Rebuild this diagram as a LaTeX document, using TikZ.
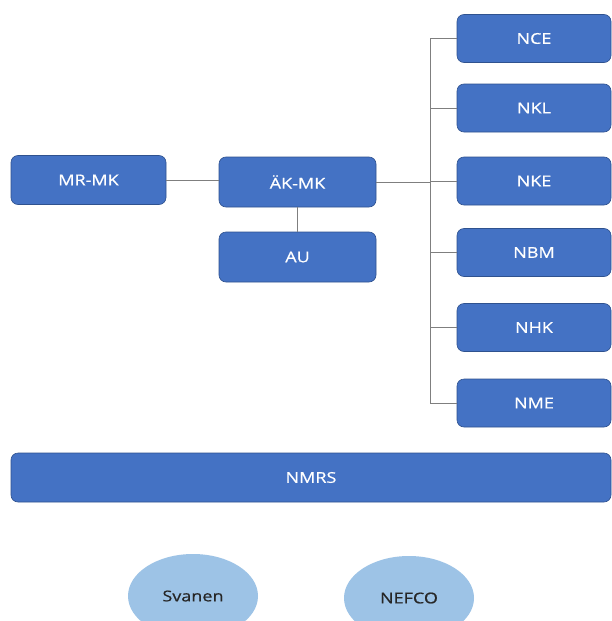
\documentclass[tikz,border=0pt]{standalone}
\usepackage{fontspec}
\setmainfont[FakeStretch=1.2,FakeBold=0.6]{Open Sans}
\usetikzlibrary{shapes.geometric}
\definecolor{boxblue}{HTML}{4472C4}
\definecolor{boxedge}{HTML}{2F528F}
\definecolor{ellblue}{HTML}{9DC3E6}
\definecolor{linegray}{HTML}{7F7F7F}
\begin{document}
\begin{tikzpicture}[x=1pt,y=-1pt,
  org/.style={draw=boxedge, line width=0.6pt, fill=boxblue, rounded corners=7pt,
    text=white, font=\fontsize{15}{17}\selectfont, inner sep=0pt},
  col/.style={org, minimum width=154pt, minimum height=48pt},
  mid/.style={org, minimum width=157pt, minimum height=49pt},
  oval/.style={ellipse, fill=ellblue, draw=none, minimum width=130pt, minimum height=84pt,
    inner sep=0pt, text=black!85, font=\fontsize{15}{17}\selectfont},
  conn/.style={draw=linegray, line width=1pt}]
\clip (0,0) rectangle (612,621);
\fill[white] (0,0) rectangle (612,621);
% left and middle
\node[mid, minimum width=155pt] (mrmk) at (88.5,180) {MR-MK};
\node[mid, minimum height=50pt] (akmk) at (297.5,182) {ÄK-MK};
\node[mid, minimum height=50pt] (au) at (297.5,257) {AU};
% right column
\node[col] (nce) at (534,38.5) {NCE};
\node[col] (nkl) at (534,108) {NKL};
\node[col] (nke) at (534,181) {NKE};
\node[col] (nbm) at (534,252.5) {NBM};
\node[col] (nhk) at (534,327.5) {NHK};
\node[col] (nme) at (534,403) {NME};
% bottom bar
\node[org, minimum width=600pt, minimum height=49pt] (nmrs) at (311,477.5) {NMRS};
% ellipses
\node[oval] (svanen) at (193,596) {Svanen};
\node[oval] (nefco) at (409,598) {NEFCO};
% connectors
\coordinate (bus) at (430,0);
\draw[conn] (mrmk.east) -- (mrmk.east -| akmk.west);
\draw[conn] (akmk.south) -- (au.north);
\draw[conn] (nce.west) -- (nce.west -| bus) -- (nme.west -| bus) -- (nme.west);
\draw[conn] (nkl.west) -- (nkl.west -| bus);
\draw[conn] (nke.west) -- (nke.west -| bus);
\draw[conn] (nbm.west) -- (nbm.west -| bus);
\draw[conn] (nhk.west) -- (nhk.west -| bus);
\draw[conn] (akmk.east) -- (akmk.east -| bus);
\end{tikzpicture}
\end{document}
